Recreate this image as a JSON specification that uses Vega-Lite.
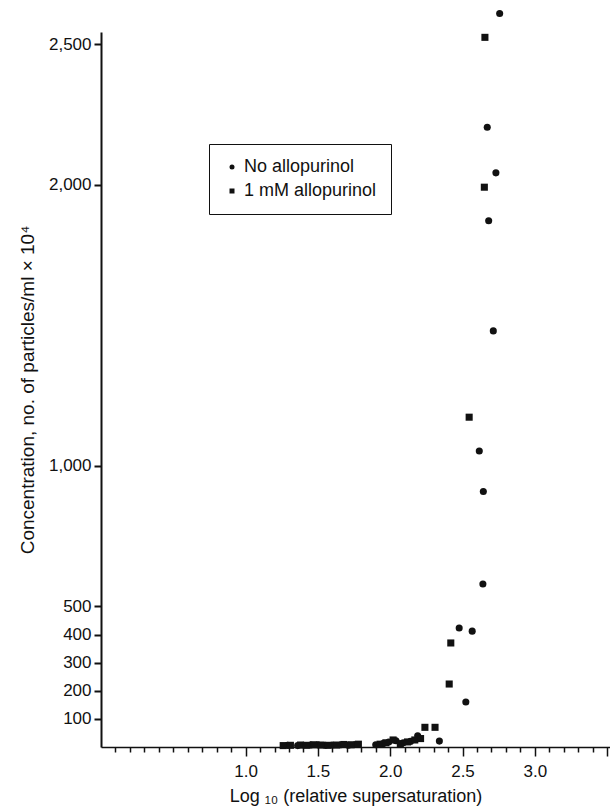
{
  "$schema": "https://vega.github.io/schema/vega-lite/v6.json",
  "width": 509,
  "height": 715,
  "autosize": {"type": "none"},
  "padding": {"left": 101, "top": 32, "right": 0, "bottom": 63},
  "background": "white",
  "config": {"view": {"stroke": null}, "font": "Liberation Sans"},
  "data": {
    "values": [
      {"log_ss": 1.29, "conc": 6, "group": "No allopurinol"},
      {"log_ss": 1.36, "conc": 5, "group": "No allopurinol"},
      {"log_ss": 1.45, "conc": 7, "group": "No allopurinol"},
      {"log_ss": 1.50, "conc": 8, "group": "No allopurinol"},
      {"log_ss": 1.55, "conc": 6, "group": "No allopurinol"},
      {"log_ss": 1.60, "conc": 7, "group": "No allopurinol"},
      {"log_ss": 1.66, "conc": 8, "group": "No allopurinol"},
      {"log_ss": 1.71, "conc": 6, "group": "No allopurinol"},
      {"log_ss": 1.76, "conc": 9, "group": "No allopurinol"},
      {"log_ss": 1.90, "conc": 8, "group": "No allopurinol"},
      {"log_ss": 1.95, "conc": 12, "group": "No allopurinol"},
      {"log_ss": 1.99, "conc": 18, "group": "No allopurinol"},
      {"log_ss": 2.04, "conc": 22, "group": "No allopurinol"},
      {"log_ss": 2.09, "conc": 15, "group": "No allopurinol"},
      {"log_ss": 2.14, "conc": 20, "group": "No allopurinol"},
      {"log_ss": 2.19, "conc": 40, "group": "No allopurinol"},
      {"log_ss": 2.34, "conc": 21, "group": "No allopurinol"},
      {"log_ss": 2.477, "conc": 423, "group": "No allopurinol"},
      {"log_ss": 2.523, "conc": 160, "group": "No allopurinol"},
      {"log_ss": 2.567, "conc": 412, "group": "No allopurinol"},
      {"log_ss": 2.616, "conc": 1053, "group": "No allopurinol"},
      {"log_ss": 2.644, "conc": 909, "group": "No allopurinol"},
      {"log_ss": 2.641, "conc": 580, "group": "No allopurinol"},
      {"log_ss": 2.671, "conc": 2204, "group": "No allopurinol"},
      {"log_ss": 2.681, "conc": 1872, "group": "No allopurinol"},
      {"log_ss": 2.713, "conc": 1480, "group": "No allopurinol"},
      {"log_ss": 2.731, "conc": 2042, "group": "No allopurinol"},
      {"log_ss": 2.757, "conc": 2609, "group": "No allopurinol"},
      {"log_ss": 1.26, "conc": 5, "group": "1 mM allopurinol"},
      {"log_ss": 1.31, "conc": 6, "group": "1 mM allopurinol"},
      {"log_ss": 1.38, "conc": 7, "group": "1 mM allopurinol"},
      {"log_ss": 1.42, "conc": 6, "group": "1 mM allopurinol"},
      {"log_ss": 1.47, "conc": 8, "group": "1 mM allopurinol"},
      {"log_ss": 1.52, "conc": 7, "group": "1 mM allopurinol"},
      {"log_ss": 1.57, "conc": 6, "group": "1 mM allopurinol"},
      {"log_ss": 1.63, "conc": 7, "group": "1 mM allopurinol"},
      {"log_ss": 1.68, "conc": 9, "group": "1 mM allopurinol"},
      {"log_ss": 1.73, "conc": 8, "group": "1 mM allopurinol"},
      {"log_ss": 1.78, "conc": 10, "group": "1 mM allopurinol"},
      {"log_ss": 1.93, "conc": 10, "group": "1 mM allopurinol"},
      {"log_ss": 1.97, "conc": 15, "group": "1 mM allopurinol"},
      {"log_ss": 2.02, "conc": 25, "group": "1 mM allopurinol"},
      {"log_ss": 2.07, "conc": 12, "group": "1 mM allopurinol"},
      {"log_ss": 2.12, "conc": 18, "group": "1 mM allopurinol"},
      {"log_ss": 2.17, "conc": 25, "group": "1 mM allopurinol"},
      {"log_ss": 2.21, "conc": 30, "group": "1 mM allopurinol"},
      {"log_ss": 2.24, "conc": 70, "group": "1 mM allopurinol"},
      {"log_ss": 2.31, "conc": 70, "group": "1 mM allopurinol"},
      {"log_ss": 2.408, "conc": 224, "group": "1 mM allopurinol"},
      {"log_ss": 2.419, "conc": 370, "group": "1 mM allopurinol"},
      {"log_ss": 2.546, "conc": 1173, "group": "1 mM allopurinol"},
      {"log_ss": 2.651, "conc": 1991, "group": "1 mM allopurinol"},
      {"log_ss": 2.655, "conc": 2524, "group": "1 mM allopurinol"}
    ]
  },
  "mark": {"type": "point", "filled": true, "opacity": 1, "size": 50, "color": "#111111"},
  "encoding": {
    "x": {
      "field": "log_ss",
      "type": "quantitative",
      "scale": {"domain": [0, 3.52], "nice": false, "zero": false},
      "axis": {
        "values": [0.1,0.2,0.3,0.4,0.5,0.6,0.7,0.8,0.9,1.0,1.1,1.2,1.3,1.4,1.5,1.6,1.7,1.8,1.9,2.0,2.1,2.2,2.3,2.4,2.5,2.6,2.7,2.8,2.9,3.0,3.1,3.2,3.3,3.4,3.5],
        "format": ".1f",
        "labelExpr": "datum.value > 0.95 && datum.value < 3.05 && round(datum.value*10) % 5 === 0 ? datum.label : ''",
        "tickSize": {"condition": {"test": "datum.value > 0.95 && round(datum.value*10) % 5 === 0", "value": 9}, "value": 5},
        "tickWidth": 1.5,
        "tickColor": "#111111",
        "domainColor": "#111111",
        "domainWidth": 1.5,
        "labelFontSize": 17,
        "labelColor": "#111111",
        "labelPadding": 7,
        "labelFlush": false,
        "labelOverlap": false,
        "grid": false,
        "title": "Log ₁₀ (relative supersaturation)",
        "titleFontSize": 18,
        "titleFontWeight": "normal",
        "titleColor": "#111111",
        "titlePadding": 8
      }
    },
    "y": {
      "field": "conc",
      "type": "quantitative",
      "scale": {"domain": [0, 2543], "nice": false},
      "axis": {
        "values": [100, 200, 300, 400, 500, 1000, 2000, 2500],
        "format": ",d",
        "tickSize": 7,
        "tickWidth": 2,
        "tickColor": "#111111",
        "domainColor": "#111111",
        "domainWidth": 2,
        "labelFontSize": 17,
        "labelColor": "#111111",
        "labelPadding": 3,
        "grid": false,
        "title": "Concentration, no. of particles/ml × 10⁴",
        "titleFontSize": 19,
        "titleFontWeight": "normal",
        "titleColor": "#111111",
        "titlePadding": 11
      }
    },
    "shape": {
      "field": "group",
      "type": "nominal",
      "scale": {"domain": ["No allopurinol", "1 mM allopurinol"], "range": ["circle", "square"]},
      "legend": {
        "orient": "none",
        "legendX": 108,
        "legendY": 112,
        "title": null,
        "strokeColor": "#111111",
        "fillColor": "white",
        "padding": 14,
        "labelFontSize": 18,
        "labelColor": "#111111",
        "labelOffset": 3,
        "symbolSize": 25,
        "symbolFillColor": "#111111",
        "symbolStrokeColor": "#111111",
        "rowPadding": 6
      }
    }
  }
}
